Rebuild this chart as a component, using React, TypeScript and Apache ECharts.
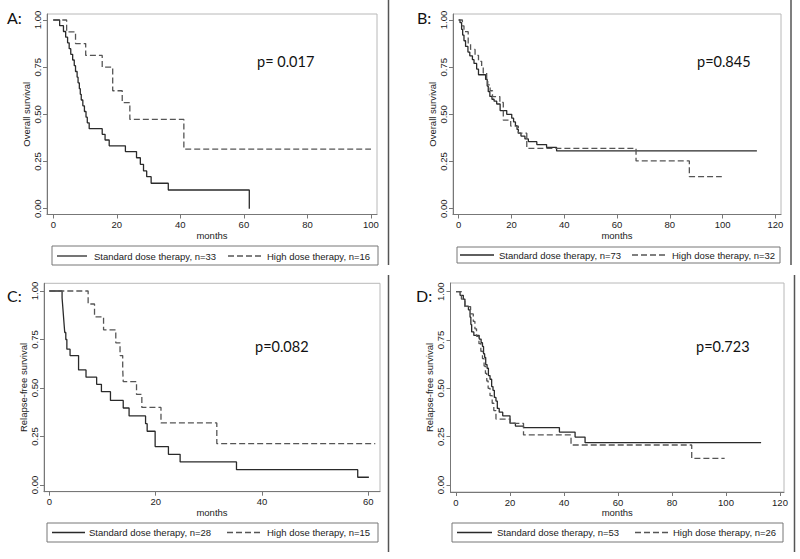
import { useEffect, useRef } from "react";
import * as echarts from "echarts";

// ---- tick labels & texts ----
const yTickValues = [0, 0.25, 0.5, 0.75, 1];
const xTicksA = [0, 20, 40, 60, 80, 100];
const xTicksB = [0, 20, 40, 60, 80, 100, 120];
const xTicksC = [0, 20, 40, 60];
const xTicksD = [0, 20, 40, 60, 80, 100, 120];

const panelLetters = ["A:", "B:", "C:", "D:"];
const pValues = ["p= 0.017", "p=0.845", "p=0.082", "p=0.723"];
const yTitles = ["Overall survival", "Overall survival", "Relapse-free survival", "Relapse-free survival"];
const xTitle = "months";
const stdNames = [
  "Standard dose therapy, n=33",
  "Standard dose therapy, n=73",
  "Standard dose therapy, n=28",
  "Standard dose therapy, n=53",
];
const highNames = [
  "High dose therapy, n=16",
  "High dose therapy, n=32",
  "High dose therapy, n=15",
  "High dose therapy, n=26",
];

// ---- Panel A: overall survival ----
const aStdMonths = [0, 2.0, 3.2, 3.9, 4.5, 5.0, 5.5, 6.1, 6.6, 7.0, 7.5, 7.8, 8.2, 8.5, 8.8, 9.3, 9.8, 10.3, 10.7, 11.3, 15.4, 16.3, 17.6, 22.7, 26.2, 27.4, 28.4, 29.4, 30.8, 36.2, 61.7, 61.7];
const aStdSurv = [1, 0.97, 0.939, 0.909, 0.879, 0.848, 0.818, 0.788, 0.758, 0.727, 0.697, 0.667, 0.636, 0.606, 0.576, 0.545, 0.515, 0.485, 0.455, 0.424, 0.394, 0.364, 0.333, 0.303, 0.27, 0.235, 0.2, 0.17, 0.135, 0.099, 0.099, 0];
const aHighMonths = [0, 4.2, 7.0, 10.2, 15.4, 18.7, 21.7, 24.1, 41.1, 100];
const aHighSurv = [1, 0.9375, 0.875, 0.8125, 0.75, 0.625, 0.5625, 0.473, 0.316, 0.316];

// ---- Panel B: overall survival ----
const bStdMonths = [0, 0.5, 1.1, 1.5, 2.0, 2.6, 3.5, 4.2, 5.2, 5.8, 6.8, 7.5, 10.2, 10.8, 11.2, 11.8, 12.6, 13.4, 14.4, 15.7, 18.2, 20.1, 20.8, 21.5, 22.1, 22.6, 23.6, 25.1, 26.4, 29.6, 33.3, 37.1, 113];
const bStdSurv = [1, 0.986, 0.95, 0.92, 0.89, 0.86, 0.83, 0.81, 0.79, 0.77, 0.74, 0.71, 0.685, 0.65, 0.62, 0.595, 0.58, 0.57, 0.555, 0.52, 0.5, 0.48, 0.46, 0.44, 0.42, 0.4, 0.385, 0.37, 0.355, 0.34, 0.325, 0.306, 0.306];
const bHighMonths = [0, 1.4, 2.0, 3.6, 4.5, 6.2, 7.5, 8.7, 9.3, 10.6, 11.0, 11.9, 12.8, 15.6, 16.9, 19.7, 22.6, 25.8, 67.2, 87.4, 99.7];
const bHighSurv = [1, 0.969, 0.938, 0.875, 0.844, 0.813, 0.781, 0.75, 0.719, 0.688, 0.656, 0.625, 0.594, 0.563, 0.469, 0.438, 0.4, 0.32, 0.253, 0.17, 0.17];

// ---- Panel C: relapse-free survival ----
const cStdMonths = [0, 2.4, 2.5, 2.6, 2.7, 2.8, 2.9, 3.1, 3.3, 3.9, 5.5, 6.9, 8.9, 9.8, 11.5, 13.9, 15.0, 18.1, 18.4, 19.9, 22.4, 24.6, 35.2, 58.0, 60.1];
const cStdSurv = [1, 0.964, 0.929, 0.893, 0.857, 0.821, 0.786, 0.75, 0.7, 0.667, 0.593, 0.556, 0.519, 0.481, 0.436, 0.397, 0.356, 0.316, 0.277, 0.198, 0.158, 0.119, 0.079, 0.04, 0.04];
const cHighMonths = [0, 7.3, 8.5, 10.2, 12.5, 13.3, 13.8, 13.9, 16.4, 17.4, 21.0, 31.5, 61.3];
const cHighSurv = [1, 0.933, 0.867, 0.8, 0.733, 0.667, 0.6, 0.533, 0.467, 0.4, 0.32, 0.213, 0.213];

// ---- Panel D: relapse-free survival ----
const dStdMonths = [0, 1.5, 2.7, 3.3, 4.6, 5.2, 5.5, 5.8, 6.6, 8.6, 9.3, 9.8, 10.2, 10.6, 11.0, 11.5, 12.0, 12.6, 13.2, 13.7, 14.2, 14.8, 15.3, 16.0, 17.3, 20.0, 22.0, 25.0, 38.3, 44.1, 47.8, 113];
const dStdSurv = [1, 0.981, 0.962, 0.925, 0.906, 0.868, 0.83, 0.792, 0.774, 0.755, 0.736, 0.717, 0.679, 0.66, 0.623, 0.604, 0.566, 0.547, 0.509, 0.49, 0.453, 0.434, 0.396, 0.377, 0.358, 0.32, 0.305, 0.297, 0.274, 0.248, 0.219, 0.219];
const dHighMonths = [0, 2.0, 3.3, 5.4, 6.4, 7.0, 7.6, 8.5, 9.2, 9.8, 10.4, 10.9, 11.4, 11.9, 12.6, 13.4, 14.0, 14.8, 20.1, 25.0, 42.6, 87.3, 99.5];
const dHighSurv = [1, 0.962, 0.923, 0.885, 0.846, 0.808, 0.769, 0.731, 0.692, 0.654, 0.615, 0.577, 0.538, 0.5, 0.462, 0.423, 0.385, 0.341, 0.319, 0.259, 0.207, 0.138, 0.138];

const pairs = (t: number[], s: number[]) => t.map((v, i) => [v, s[i]]);

const panels = [
  { std: pairs(aStdMonths, aStdSurv), high: pairs(aHighMonths, aHighSurv), xTicks: xTicksA },
  { std: pairs(bStdMonths, bStdSurv), high: pairs(bHighMonths, bHighSurv), xTicks: xTicksB },
  { std: pairs(cStdMonths, cStdSurv), high: pairs(cHighMonths, cHighSurv), xTicks: xTicksC },
  { std: pairs(dStdMonths, dStdSurv), high: pairs(dHighMonths, dHighSurv), xTicks: xTicksD },
];

// ---- layout (pixels / axis extents) ----
const layouts = [
  { left: 47, top: 14, width: 330, height: 200.5, xMin: -1.98, xMax: 101.9, yMin: -0.0307, yMax: 1.0318,
    box: [52, 246, 326, 19], legY: 256, solid: [57, 87, 94], dash: [228, 263, 267],
    letter: [7, 17], p: [257, 61], sep: [388.5, 0, 265] },
  { left: 453, top: 14, width: 328, height: 200.5, xMin: -2.16, xMax: 122.13, yMin: -0.0307, yMax: 1.0318,
    box: [457, 247, 323, 16], legY: 255, solid: [460, 494, 499], dash: [632, 667, 672],
    letter: [417, 17], p: [697, 61], sep: [791, 0, 265] },
  { left: 44, top: 283.3, width: 336, height: 208.4, xMin: -1.0, xMax: 62.19, yMin: -0.0345, yMax: 1.0397,
    box: [47, 523, 331, 19], legY: 532.5, solid: [52, 85, 89], dash: [227, 263, 267],
    letter: [7, 295], p: [255, 346], sep: [388.5, 275, 552] },
  { left: 450.5, top: 283, width: 333.5, height: 209, xMin: -2.04, xMax: 121.48, yMin: -0.0362, yMax: 1.045,
    box: [452, 523, 331, 19], legY: 532.5, solid: [457, 492, 497], dash: [635, 668, 673],
    letter: [416, 295], p: [696, 346], sep: [794.5, 275, 552] },
];

const FONT = "Liberation Sans";
const TXT = "#222";
const STD_COLOR = "#2a2a2a";
const HIGH_COLOR = "#555";
const DASH = [6, 3];

export default function App() {
  const ref = useRef<HTMLDivElement>(null);
  useEffect(() => {
    if (!ref.current) return;
    const chart = echarts.init(ref.current, undefined, { renderer: "svg" });

    const grid: any[] = [];
    const xAxis: any[] = [];
    const yAxis: any[] = [];
    const series: any[] = [];
    const graphic: any[] = [];

    layouts.forEach((L, i) => {
      const P = panels[i];
      grid.push({
        left: L.left, top: L.top, width: L.width, height: L.height,
        show: true, borderColor: "#b8b8b8", borderWidth: 1, backgroundColor: "#fff",
      });
      xAxis.push({
        type: "value", gridIndex: i, min: L.xMin, max: L.xMax,
        name: xTitle, nameLocation: "middle", nameGap: 15,
        nameTextStyle: { fontFamily: FONT, fontSize: 9.5, color: TXT },
        axisLine: { show: true, onZero: false, lineStyle: { color: "#777", width: 1 } },
        axisTick: { show: true, inside: false, length: 4, customValues: P.xTicks, lineStyle: { color: "#777" } },
        axisLabel: { customValues: P.xTicks, margin: 5, fontFamily: FONT, fontSize: 9.5, color: TXT },
        splitLine: { show: false },
      });
      yAxis.push({
        type: "value", gridIndex: i, min: L.yMin, max: L.yMax,
        name: yTitles[i], nameLocation: "middle", nameGap: 15, nameRotate: 90,
        nameTextStyle: { fontFamily: FONT, fontSize: 9.5, color: TXT },
        axisLine: { show: true, onZero: false, lineStyle: { color: "#777", width: 1 } },
        axisTick: { show: true, inside: false, length: 4, customValues: yTickValues, lineStyle: { color: "#777" } },
        axisLabel: {
          customValues: yTickValues, rotate: 90, margin: 5, fontFamily: FONT, fontSize: 9.5, color: TXT,
          formatter: (v: number) => v.toFixed(2),
        },
        splitLine: { show: false },
      });
      series.push({
        type: "line", name: stdNames[i], xAxisIndex: i, yAxisIndex: i, step: "end",
        symbol: "none", data: P.std,
        lineStyle: { color: STD_COLOR, width: 1.3, type: "solid" },
      });
      series.push({
        type: "line", name: highNames[i], xAxisIndex: i, yAxisIndex: i, step: "end",
        symbol: "none", data: P.high,
        lineStyle: { color: HIGH_COLOR, width: 1.3, type: DASH },
      });
      // legend box drawn like Stata's
      graphic.push({
        type: "rect", shape: { x: L.box[0], y: L.box[1], width: L.box[2], height: L.box[3] },
        style: { fill: "none", stroke: "#777", lineWidth: 1 },
      });
      graphic.push({
        type: "line", shape: { x1: L.solid[0], y1: L.legY, x2: L.solid[1], y2: L.legY },
        style: { stroke: STD_COLOR, lineWidth: 1.3 },
      });
      graphic.push({
        type: "text", x: L.solid[2], y: L.legY,
        style: { text: stdNames[i], fontFamily: FONT, fontSize: 9.5, fill: TXT, verticalAlign: "middle" },
      });
      graphic.push({
        type: "line", shape: { x1: L.dash[0], y1: L.legY, x2: L.dash[1], y2: L.legY },
        style: { stroke: HIGH_COLOR, lineWidth: 1.3, lineDash: DASH },
      });
      graphic.push({
        type: "text", x: L.dash[2], y: L.legY,
        style: { text: highNames[i], fontFamily: FONT, fontSize: 9.5, fill: TXT, verticalAlign: "middle" },
      });
      graphic.push({
        type: "text", x: L.letter[0], y: L.letter[1],
        style: { text: panelLetters[i], fontFamily: "Lato", fontSize: 16, fill: "#111", verticalAlign: "middle" },
      });
      graphic.push({
        type: "text", x: L.p[0], y: L.p[1],
        style: { text: pValues[i], fontFamily: "Lato", fontSize: 14.5, fill: "#111", verticalAlign: "middle" },
      });
      graphic.push({
        type: "line", shape: { x1: L.sep[0], y1: L.sep[1], x2: L.sep[0], y2: L.sep[2] },
        style: { stroke: "#555", lineWidth: 1.5 },
      });
    });

    chart.setOption({
      animation: false,
      backgroundColor: "#fff",
      grid, xAxis, yAxis, series, graphic,
    });
    return () => chart.dispose();
  }, []);

  return (
    <div
      ref={ref}
      style={{ position: "fixed", left: 0, top: 0, width: 800, height: 559, background: "#fff" }}
    />
  );
}
